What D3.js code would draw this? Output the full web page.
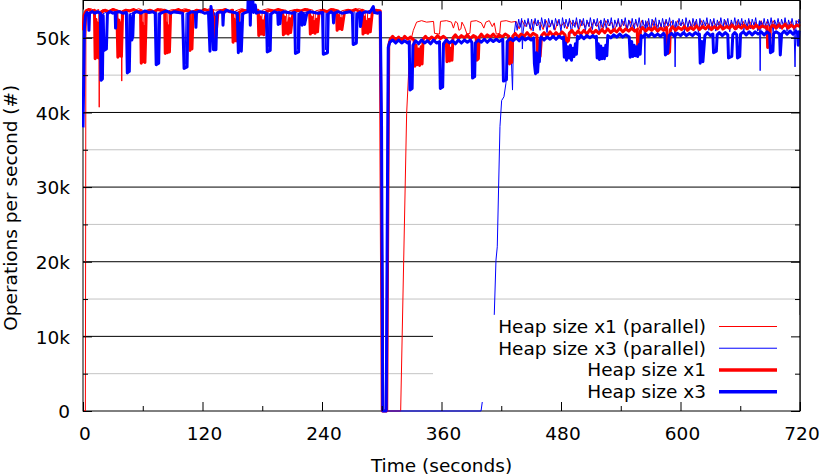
<!DOCTYPE html>
<html>
<head>
<meta charset="utf-8">
<script src="https://cdn.jsdelivr.net/npm/d3@7"></script>
<style>
  html, body { margin: 0; padding: 0; background: #fff; }
  svg { display: block; font-family: "DejaVu Sans", sans-serif; }
</style>
</head>
<body>
<svg id="chart" width="820" height="475"></svg>
<script>
// Throughput samples: [time in seconds, operations per second in thousands]

const heapX1Parallel = [
  [0,0],[2.4,0],[2.9,50.0],[3.8,53.7],[8,53.9],[12,53.6],[15.8,53.8],[16.3,40.7],[16.8,53.5],
  [20,53.8],[25,53.6],[30,53.9],[35,53.7],[38.5,53.6],[38.9,44.2],[39.4,53.5],[44,53.8],
  [50,53.6],[56,53.9],[60,53.7],[60.5,47.0],[61.5,53.6],[66,53.8],[72,53.6],[78,53.9],
  [84,53.7],[84.6,48.5],[85.4,53.6],[90,53.8],[96,53.6],[102,53.9],[108,53.7],[108.5,48.8],
  [109.3,53.6],[115,53.8],[121,53.6],[127,53.9],[133,53.7],[139,53.8],[145,53.6],[151,53.8],
  [152,50.0],[153,53.6],[159,53.9],[165,53.7],[171,53.8],[177,53.6],[179,51.0],[180,53.7],
  [186,53.9],[192,53.6],[198,53.8],[204,53.7],[206,50.8],[207,53.6],[213,53.8],[219,53.6],
  [225,53.9],[231,53.7],[232.5,51.0],[233.5,53.6],[239,53.8],[245,53.6],[251,53.9],[257,53.7],
  [258.5,51.5],[259.5,53.6],[265,53.8],[271,53.6],[277,53.9],[283,53.7],[285,51.0],[286,53.6],
  [292,53.8],[298.8,53.7],[302,0],[319,0],[325,39.9],[328.4,49.2],[331.7,51.0],[335,52.1],
  [340,52.3],[345,52.1],[352,52.2],[353,50.6],[358,50.5],[359,52.2],[365,52.3],[370,52.1],
  [372,51.3],[374,52.2],[376,52.0],[377.5,51.0],[379.5,51.2],[380.5,52.1],[383,51.5],
  [385.5,50.5],[388.5,50.6],[389.5,52.2],[395,52.3],[400,52.0],[402.5,51.3],[404.5,52.1],
  [408,52.3],[411,51.5],[413,52.0],[415,50.5],[418.5,50.6],[419.5,52.2],[425,52.3],[430,52.1],
  [435,52.2],[438,51.2],[441,52.3],[444,51.5],[447,52.2],[450,51.0],[453,52.3],[456,51.6],
  [459,52.1],[462,51.1],[465,52.3],[468,51.4],[471,52.2],[474,51.0],[477,52.3],[480,51.5],
  [483,52.1],[486,51.2],[489,52.3],[492,51.6],[495,52.2],[498,51.0],[501,52.3],[504,51.4],
  [507,52.1],[510,51.2],[513,52.3],[516,51.5],[519,52.2],[522,51.1],[525,52.3],[528,51.6],
  [531,52.1],[534,51.0],[537,52.3],[540,51.4],[543,52.2],[546,51.2],[549,52.3],[552,51.5],
  [555,52.1],[558,51.1],[561,52.3],[564,51.6],[567,52.2],[570,51.0],[573,52.3],[576,51.4],
  [579,52.1],[582,51.2],[585,52.3],[588,51.5],[591,52.2],[594,51.1],[597,52.3],[600,51.6],
  [603,52.1],[606,51.0],[609,52.3],[612,51.4],[615,52.2],[618,51.2],[621,52.3],[624,51.5],
  [627,52.1],[630,51.1],[633,52.3],[636,51.6],[639,52.2],[642,51.0],[645,52.3],[648,51.4],
  [651,52.1],[654,51.2],[657,52.3],[660,51.5],[663,52.2],[666,51.1],[669,52.3],[672,51.6],
  [675,52.1],[678,51.0],[681,52.3],[684,51.4],[687,52.2],[690,51.2],[693,52.3],[696,51.5],
  [699,52.1],[702,51.1],[705,52.3],[708,51.6],[711,52.2],[714,51.0],[717,52.3],[720,51.8]
];

const heapX3Parallel = [
  [0,40.0],[1,47.0],[2,52.5],[3.5,53.4],[5.8,53.3],[6.2,51.0],[6.8,53.4],[10,53.5],[14,53.3],
  [18,53.4],[18.5,45.0],[19.5,53.2],[25,53.5],[30,53.3],[35,53.4],[40,53.5],[45,53.3],
  [45.6,46.0],[46.5,53.2],[52,53.4],[58,53.5],[64,53.3],[70,53.4],[74,53.5],[74.5,47.0],
  [75.5,53.3],[82,53.4],[88,53.5],[94,53.3],[100,53.4],[102.5,46.5],[103.5,53.3],[110,53.5],
  [116,53.4],[122,53.3],[128,53.5],[132,53.4],[132.5,49.0],[133.5,53.3],[140,53.4],[146,53.5],
  [152,53.3],[157.5,53.4],[158,48.8],[159,53.3],[166,53.5],[172,53.4],[178,53.3],[186,53.4],
  [186.5,48.8],[187.5,53.3],[194,53.5],[200,53.4],[206,53.3],[212,53.5],[215,53.4],[215.5,48.5],
  [216.5,53.3],[222,53.4],[228,53.5],[234,53.3],[240,53.4],[243,53.5],[243.5,48.4],[244.5,53.3],
  [250,53.4],[256,53.5],[262,53.3],[268,53.4],[273,53.5],[273.5,49.8],[274.5,53.3],[280,53.4],
  [286,53.5],[292,53.3],[299,53.4],[300.5,30.0],[302,0],[399.7,0],[413,12.9],[414.7,20.2],
  [416,22.0],[418.7,38.1],[420.4,41.6],[422.7,42.1],[424.7,43.9],[426.5,49.5],[429.5,49.4],
  [431.3,43.0],[432.3,49.6],[434.5,52.2],[436,51.0],[437.5,52.5],[439,51.4],[440.5,52.6],
  [441.2,48.5],[442,50.8],[443.5,52.4],[445.5,51.5],[447,52.6],[449,51.2],[450.5,52.5],
  [452,50.9],[454,52.6],[455.5,51.6],[457,52.4],[459,51.0],[460.5,52.7],[462.5,51.4],[464,52.5],
  [466,50.7],[467.5,52.6],[469.5,51.5],[471,52.4],[473,51.1],[474.5,52.6],[476.5,51.6],[478,52.5],
  [480,50.8],[481.5,52.7],[483.5,51.3],[485,52.5],[487,51.5],[488.5,52.6],[490.5,50.6],[492,52.4],
  [494,51.4],[495.5,52.7],[497.5,51.2],[499,52.5],[501,51.6],[502.5,52.6],[504.5,50.9],[506,52.4],
  [508,51.5],[509.5,52.7],[511.5,51.1],[513,52.5],[515,51.6],[516.5,52.6],[518.5,50.7],[520,52.4],
  [522,51.4],[523.5,52.6],[525.5,51.2],[527,52.5],[529,51.6],[530.5,52.7],[532.5,50.8],[534,52.4],
  [536,51.5],[537.5,52.6],[539.5,51.0],[541,52.5],[543,51.6],[544.5,52.7],[546.5,50.9],[548,52.4],
  [550,51.4],[551.5,52.6],[553.5,51.1],[555,52.5],[557,51.5],[558.5,52.7],[560.5,50.8],[562,52.4],
  [563.5,51.6],[564.2,46.4],[565,52.3],[566.5,51.3],[568,52.6],[570,51.0],[571.5,52.5],
  [573.5,51.5],[575,52.7],[577,50.7],[578.5,52.4],[580.5,51.4],[582,52.6],[584,51.2],[585.5,52.5],
  [587.5,51.6],[589,52.7],[591,50.9],[592.5,52.4],[594,51.5],[594.6,46.1],[595.3,52.2],[597,51.2],
  [598.5,52.6],[600.5,51.6],[602,52.5],[604,50.8],[605.5,52.7],[607.5,51.4],[609,52.4],[611,51.1],
  [612.5,52.6],[614.5,51.5],[616,52.5],[618,50.7],[619.5,52.6],[621.5,51.3],[623,52.4],[625,51.6],
  [626.5,52.7],[628.5,51.0],[630,52.5],[632,51.5],[633.5,52.6],[635.5,50.9],[637,52.4],[639,51.4],
  [640.5,52.7],[642.5,51.2],[644,52.5],[646,51.6],[647.5,52.6],[649.5,50.8],[651,52.4],[653,51.5],
  [654.5,52.7],[656.5,51.1],[658,52.5],[660,51.6],[661.5,52.6],[663.5,50.7],[665,52.4],[667,51.4],
  [668.5,52.6],[670.5,51.2],[672,52.5],[674,51.6],[675.5,52.7],[677.5,50.9],[679.3,52.3],
  [680,45.6],[680.7,52.2],[682.5,51.4],[684,52.6],[686,51.0],[687.5,52.5],[689.5,51.5],[691,52.7],
  [693,50.8],[694.5,52.4],[696.5,51.6],[698,52.6],[700,51.2],[701.5,52.5],[703.5,51.5],[705,52.7],
  [707,50.9],[708.5,52.4],[710.5,51.4],[712,52.6],[714,51.3],[715,46.1],[716,52.3],[717.5,51.5],
  [719,52.5],[720,52.0]
];

const heapX1 = [
  [0,51.0],[1,53.0],[3,53.6],[6,53.8],[9,53.5],[11.5,53.7],[12.2,47.2],[13,52.5],[13.8,47.4],
  [14.8,52.0],[15.6,47.3],[16.5,51.5],[17.3,47.5],[18,53.4],[22,53.7],[26,53.5],[30,53.8],
  [34,53.6],[35,47.4],[36,52.4],[36.8,47.6],[37.8,52.0],[38.6,47.5],[39.8,53.5],[43,53.7],
  [47,53.6],[51,53.8],[55,53.5],[57.8,53.6],[58.5,46.6],[59.5,52.0],[60.3,46.8],[61.3,51.5],
  [62.2,46.7],[63.5,53.3],[67,53.7],[71,53.5],[75,53.8],[79,53.6],[82,53.7],[82.6,47.9],
  [83.8,52.0],[84.7,48.0],[85.8,51.6],[86.8,48.1],[88,53.4],[92,53.6],[96,53.8],[100,53.5],
  [104,53.7],[106.8,53.6],[107.4,48.3],[108.5,52.0],[109.4,48.5],[110.6,53.3],[114,53.7],
  [118,53.5],[122,53.8],[126,53.6],[130,53.7],[131.2,50.1],[132.5,52.8],[133.5,50.3],[135.5,53.4],
  [139,53.6],[143,53.8],[147,53.5],[150,53.7],[150.7,49.4],[152,52.5],[153,49.6],[154.5,52.0],
  [155.5,49.5],[156.5,53.4],[160,53.7],[164,53.6],[168,53.8],[172,53.5],[175.8,53.7],[176.5,50.3],
  [178,52.8],[179,50.5],[180.5,52.3],[181.5,50.4],[183,52.6],[184,53.5],[188,53.7],[192,53.6],
  [196,53.8],[200.5,53.6],[201.2,50.4],[202.5,52.8],[203.5,50.6],[205,52.0],[206,50.5],[207.5,52.6],
  [208.5,50.7],[210,52.4],[211,53.5],[215,53.7],[219,53.6],[223,53.8],[227.5,53.6],[228.3,50.5],
  [229.5,52.8],[230.5,50.7],[232,52.2],[233,50.6],[234.5,52.5],[235.5,50.8],[237,53.4],[241,53.7],
  [245,53.5],[249,53.8],[254.5,53.6],[255.2,51.0],[256.5,53.0],[257.5,51.2],[259,52.6],[260,51.1],
  [262.5,53.4],[266,53.7],[270,53.6],[274,53.8],[278,53.5],[280.5,53.7],[281.2,50.5],[282.5,52.8],
  [283.5,50.7],[285,52.2],[286,50.6],[287.5,52.5],[288.5,50.8],[290.5,53.4],[294,53.7],[298.5,53.6],
  [300.5,0],[305,0],[307,49.0],[308.5,49.8],[311,50.2],[314,49.7],[317,50.1],[320,49.6],[323,50.2],
  [326,49.8],[329,50.1],[332.5,49.7],[333.3,46.2],[334.5,49.0],[335.5,46.4],[337,48.5],[338,46.3],
  [339.5,48.8],[340.5,46.5],[341.5,49.8],[344,50.2],[347,49.7],[350,50.1],[353,49.8],[356,50.3],
  [359,49.9],[362,50.2],[364.8,49.9],[365.5,46.8],[367,49.2],[368,46.9],[369.5,48.6],[370.5,47.0],
  [371.5,50.0],[374,50.4],[377,49.9],[380,50.3],[383,50.0],[386,50.4],[389,49.9],[392,50.3],
  [394.8,50.1],[395.5,47.0],[397,47.2],[397.8,50.1],[400,50.5],[403,50.0],[406,50.4],[409,50.1],
  [412,50.5],[415,50.0],[418,50.4],[421,50.1],[424,50.5],[427.5,50.2],[428.3,46.5],[429.5,49.5],
  [430.5,46.7],[431.5,50.2],[434,50.6],[437,50.1],[440,50.5],[443,50.2],[446,50.7],[449,50.2],
  [452,50.6],[455.8,50.3],[456.5,47.3],[458,49.6],[459,47.5],[460.5,50.3],[463,50.7],[466,50.2],
  [469,50.8],[472,50.3],[475,50.7],[478,50.3],[481,50.8],[484,50.4],[485.5,49.4],[487.5,49.6],
  [488.3,50.6],[491,51.0],[494,50.4],[497,50.9],[500,50.5],[503,51.0],[506,50.5],[509,51.1],
  [512,50.6],[515,51.0],[518,50.6],[521,51.1],[524,50.7],[527,51.2],[530,50.7],[533,51.1],
  [536,50.8],[539,51.3],[542,50.8],[545,51.2],[548,50.9],[551,51.3],[554,50.9],[556.5,51.1],
  [557,49.0],[559,49.2],[559.8,51.0],[562,51.4],[565,50.9],[568,51.3],[571,51.0],[574,51.4],
  [577,50.9],[580,51.3],[583,51.0],[586,51.4],[587.5,47.9],[589,48.1],[589.8,51.1],[592,51.5],
  [595,51.0],[598,51.4],[601,51.1],[604,51.5],[607,51.0],[610,51.4],[613,51.1],[616,51.6],
  [619,51.1],[622,51.5],[625,51.2],[628,51.6],[631,51.1],[634,51.5],[637,51.2],[640,51.6],
  [643,51.2],[646,51.5],[649,51.3],[652,51.7],[655,51.2],[658,51.6],[661,51.3],[664,51.7],
  [667,51.2],[670,51.6],[673,51.3],[676,51.7],[679,51.3],[682,51.6],[685,51.4],[687,51.5],
  [687.5,48.7],[689.5,48.9],[690.3,51.4],[693,51.7],[696,51.3],[699,51.7],[702,51.4],[705,51.8],
  [708,51.3],[711,51.7],[714,51.4],[717,51.7],[720,51.5]
];

const heapX3 = [
  [0,38.0],[0.8,45.0],[1.5,51.5],[2.5,53.0],[4,53.4],[5.5,53.2],[6,51.0],[6.6,53.3],[9,53.5],
  [12,53.3],[15,53.5],[17.5,53.3],[18,44.3],[19.5,44.5],[20.3,53.0],[21,48.3],[23.5,48.5],
  [24.5,53.2],[27,53.5],[30,53.3],[32.3,53.4],[32.7,51.3],[33.2,53.4],[36,53.5],[40,53.3],
  [43.5,53.4],[44.5,45.3],[46.5,45.5],[47.5,53.0],[49,49.7],[50,50.2],[50.8,53.3],[54,53.5],
  [58,53.3],[62,53.6],[66,53.4],[70,53.5],[72.5,53.3],[73.5,46.4],[76,46.6],[77,53.2],[80,53.4],
  [84,53.6],[88,53.3],[92,53.5],[96,53.4],[100,53.3],[101.5,45.9],[104.5,46.1],[105.5,53.2],
  [109,53.5],[112.8,53.4],[113.4,51.4],[114,53.4],[118,53.6],[122,53.3],[126,53.4],[127.5,48.2],
  [128.5,54.2],[130,52.6],[131,48.4],[133.5,48.4],[134.5,53.3],[137,53.5],[140.2,53.4],[140.6,51.7],
  [141.2,53.3],[144,53.7],[148,53.5],[152,53.4],[155,53.3],[156,48.0],[158,52.0],[159,48.2],
  [160.4,53.2],[163,53.4],[165.5,53.5],[166,56.5],[167.5,55.0],[168,51.7],[169,56.5],[170.5,55.2],
  [171.2,53.4],[173,54.4],[174,53.3],[178,53.5],[182,53.4],[184.2,53.3],[185,48.1],[188,48.3],
  [188.8,53.2],[192,53.5],[195.5,53.3],[196,51.8],[197,53.4],[197.8,51.9],[198.8,53.3],[202,53.5],
  [206,53.4],[210,53.3],[212.5,53.4],[213.3,47.9],[216.5,48.1],[217.3,53.2],[219.3,53.4],
  [220,51.7],[221.5,53.2],[222.5,51.8],[224.8,53.3],[228,53.5],[232,53.4],[236,53.3],[240.5,53.4],
  [241.3,47.8],[245.5,48.0],[246.3,53.2],[249,53.5],[251,53.3],[251.6,52.0],[252.6,53.3],
  [256,53.5],[260,53.3],[264,53.4],[268,53.5],[270.5,53.3],[271.3,49.1],[274.5,49.3],[275.3,53.2],
  [278,53.4],[278.6,51.5],[280.5,53.3],[284,53.5],[288,53.4],[291.5,54.2],[292.5,53.4],[296,53.3],
  [298.5,53.4],[299.8,38.0],[301,0],[304.5,0],[306.5,48.7],[308,49.4],[311,49.7],[314,49.3],
  [317,49.7],[320,49.3],[323,49.6],[326,49.3],[327.6,49.5],[328.3,43.0],[330.5,43.2],[331.3,49.0],
  [334,49.6],[337,49.2],[340,49.7],[343,49.3],[346,49.6],[349,49.2],[352,49.7],[355,49.3],
  [358,49.5],[358.8,43.2],[361.2,43.4],[362,49.2],[365,49.7],[368,49.3],[371,49.6],[374,49.2],
  [377,49.7],[380,49.3],[383,49.7],[386,49.4],[389,49.7],[390.5,49.4],[391.2,44.6],[393.3,44.8],
  [394,49.3],[397,49.7],[400,49.4],[403,49.8],[406,49.4],[409,49.8],[412,49.5],[415,49.8],
  [418,49.5],[421.5,49.8],[422.2,44.2],[425.2,44.4],[426,49.5],[429,49.9],[432,49.6],[435,50.0],
  [438,49.6],[441,50.1],[444,49.7],[447,50.0],[450,49.7],[452.5,50.0],[453.3,46.5],[454.4,45.2],
  [455.5,48.0],[456.5,45.4],[457.5,47.5],[458.3,46.8],[459.2,49.8],[460,50.1],[463,49.7],
  [466,50.1],[469,49.8],[472,50.2],[475,49.8],[478,50.2],[481,49.9],[482.5,50.1],[483.3,47.4],
  [484.5,49.3],[485.5,47.0],[487,48.8],[488,47.3],[489.5,49.0],[490.5,47.0],[492,48.6],[493,47.5],
  [494.5,49.2],[495.5,47.8],[496.5,50.2],[498,49.9],[500,50.3],[503,49.9],[506,50.3],[509,50.0],
  [512,50.3],[514.5,50.0],[515.5,50.2],[516.3,47.3],[517.5,49.2],[518.5,47.1],[520,48.9],
  [521,47.2],[522.5,48.6],[523.5,47.2],[525,49.0],[526,47.6],[527,50.3],[530,50.0],[533,50.4],
  [536,50.1],[539,50.5],[542,50.1],[545,50.4],[548.5,50.1],[549.5,47.4],[551,49.5],[552,47.5],
  [553.5,49.0],[554.5,47.6],[556,48.8],[557,47.5],[558.5,49.1],[559.5,47.8],[560.5,50.3],
  [562,50.1],[565,50.5],[568,50.2],[571,50.6],[574,50.2],[577,50.5],[580,50.2],
  [583,50.6],[584.3,50.3],[584.8,47.7],[587,48.0],[588.5,50.3],[591,50.6],[594,50.2],[597,50.6],
  [600,50.3],[603,50.7],[606,50.3],[609,50.6],[612,50.3],[615,50.7],[618,50.4],[619,50.5],
  [619.8,46.6],[621.5,49.5],[622.5,46.8],[624.5,50.3],[627,50.7],[630,50.3],[632.5,50.5],
  [633.2,48.0],[636,48.2],[636.8,50.4],[639,50.7],[642,50.3],[645,50.7],[647.5,50.4],[648.2,47.3],
  [651.5,47.5],[652.5,50.4],[654.5,50.7],[656.5,50.4],[657.2,47.3],[659.5,47.5],[660.3,50.5],
  [663,50.8],[666,50.4],[669,50.8],[672,50.4],[675,50.8],[678,50.5],[681,50.8],[684,50.4],
  [687,50.8],[689.5,50.5],[690.3,48.0],[692.8,48.2],[693.5,50.6],[696,50.8],[699.5,50.5],
  [700.2,47.7],[701.5,50.5],[704,50.9],[707,50.5],[710,50.9],[713,50.5],[716,50.9],[717.5,50.6],
  [718.2,49.0],[719,50.8],[720,50.7]
];

const seriesNames = ["Heap size x1 (parallel)", "Heap size x3 (parallel)", "Heap size x1", "Heap size x3"];
const seriesData = [heapX1Parallel, heapX3Parallel, heapX1, heapX3];

const xMajorTicks = [0, 120, 240, 360, 480, 600, 720];
const xMinorTicks = [60, 180, 300, 420, 540, 660];
const yMajorTicks = [0, 10, 20, 30, 40, 50];   // thousands
const yMinorTicks = [5, 15, 25, 35, 45];

// ---- styling and layout ----
const lineStyles = [
  { color: "#ff0000", width: 1 },
  { color: "#0000ff", width: 1 },
  { color: "#ff0000", width: 3 },
  { color: "#0000ff", width: 3 }
];
const plot = { left: 83, right: 800, top: 0.5, bottom: 411 };
const fontSize = 18.5;

const svg = d3.select("#chart");
const x = d3.scaleLinear().domain([0, 720]).range([plot.left, plot.right]);
const y = d3.scaleLinear().domain([0, 55]).range([plot.bottom, plot.top]);

// horizontal grid lines
const grid = svg.append("g");
grid.selectAll("line.minor").data(yMinorTicks).join("line")
  .attr("x1", plot.left).attr("x2", plot.right)
  .attr("y1", d => y(d)).attr("y2", d => y(d))
  .attr("stroke", "#c4c4c4").attr("stroke-width", 1);
grid.selectAll("line.major").data(yMajorTicks.filter(d => d > 0)).join("line")
  .attr("x1", plot.left).attr("x2", plot.right)
  .attr("y1", d => y(d)).attr("y2", d => y(d))
  .attr("stroke", "#000").attr("stroke-width", 1);

// plot frame
svg.append("rect")
  .attr("x", plot.left).attr("y", plot.top)
  .attr("width", plot.right - plot.left).attr("height", plot.bottom - plot.top)
  .attr("fill", "none").attr("stroke", "#000").attr("stroke-width", 1);

// series
svg.append("clipPath").attr("id", "plotClip").append("rect")
  .attr("x", plot.left - 1).attr("y", plot.top)
  .attr("width", plot.right - plot.left + 2).attr("height", plot.bottom - plot.top + 2);

const line = d3.line().x(d => x(d[0])).y(d => y(d[1]));
svg.append("g").attr("clip-path", "url(#plotClip)")
  .selectAll("path").data(seriesData).join("path")
  .attr("d", line)
  .attr("fill", "none")
  .attr("stroke", (d, i) => lineStyles[i].color)
  .attr("stroke-width", (d, i) => lineStyles[i].width)
  .attr("stroke-linejoin", "round");

// opaque key background
svg.append("rect")
  .attr("x", 433).attr("y", 315).attr("width", 366.5).attr("height", 87)
  .attr("fill", "#fff");

// axes with inward ticks
function styleAxis(g) {
  g.select(".domain").remove();
  g.selectAll(".tick line").attr("stroke", "#000").attr("stroke-width", 1);
  g.selectAll("text").attr("fill", "#000").attr("font-size", fontSize)
    .attr("font-family", "DejaVu Sans, sans-serif");
}
const fmtK = d => d === 0 ? "0" : d + "k";

svg.append("g").attr("transform", `translate(0,${plot.bottom})`)
  .call(d3.axisBottom(x).tickValues(xMajorTicks).tickSize(-9).tickPadding(0).tickFormat(d3.format("d")))
  .call(styleAxis)
  .call(g => g.selectAll("text").attr("dy", 0).attr("y", 28.5).attr("dx", 1.5));
svg.append("g").attr("transform", `translate(0,${plot.bottom})`)
  .call(d3.axisBottom(x).tickValues(xMinorTicks).tickSize(-5).tickFormat(""))
  .call(styleAxis);
svg.append("g").attr("transform", `translate(0,${plot.top})`)
  .call(d3.axisTop(x).tickValues(xMajorTicks).tickSize(-9).tickFormat(""))
  .call(styleAxis);
svg.append("g").attr("transform", `translate(0,${plot.top})`)
  .call(d3.axisTop(x).tickValues(xMinorTicks).tickSize(-5).tickFormat(""))
  .call(styleAxis);

svg.append("g").attr("transform", `translate(${plot.left},0)`)
  .call(d3.axisLeft(y).tickValues(yMajorTicks).tickSize(-9).tickPadding(13).tickFormat(fmtK))
  .call(styleAxis)
  .call(g => g.selectAll("text").attr("dy", "0.36em"));
svg.append("g").attr("transform", `translate(${plot.left},0)`)
  .call(d3.axisLeft(y).tickValues(yMinorTicks).tickSize(-5).tickFormat(""))
  .call(styleAxis);
svg.append("g").attr("transform", `translate(${plot.right},0)`)
  .call(d3.axisRight(y).tickValues(yMajorTicks).tickSize(-9).tickFormat(""))
  .call(styleAxis);
svg.append("g").attr("transform", `translate(${plot.right},0)`)
  .call(d3.axisRight(y).tickValues(yMinorTicks).tickSize(-5).tickFormat(""))
  .call(styleAxis);
svg.append("line")
  .attr("x1", plot.right).attr("x2", plot.right)
  .attr("y1", plot.top).attr("y2", plot.bottom)
  .attr("stroke", "#000");

// axis titles
svg.append("text")
  .attr("x", (plot.left + plot.right) / 2).attr("y", 471.5)
  .attr("text-anchor", "middle").attr("font-size", fontSize)
  .text("Time (seconds)");
svg.append("text")
  .attr("transform", `translate(17,${(plot.top + plot.bottom) / 2 + 2}) rotate(-90)`)
  .attr("text-anchor", "middle").attr("font-size", fontSize)
  .text("Operations per second (#)");

// key
const key = svg.append("g");
const keyRow = d3.scaleLinear().domain([0, 3]).range([326.5, 391.7]);
seriesNames.forEach((name, i) => {
  const cy = keyRow(i);
  key.append("text")
    .attr("x", 706).attr("y", cy + 6.5)
    .attr("text-anchor", "end").attr("font-size", fontSize)
    .text(name);
  key.append("line")
    .attr("x1", 719).attr("x2", 777).attr("y1", cy).attr("y2", cy)
    .attr("stroke", lineStyles[i].color)
    .attr("stroke-width", lineStyles[i].width === 1 ? 1 : 3.5);
});
</script>
</body>
</html>
